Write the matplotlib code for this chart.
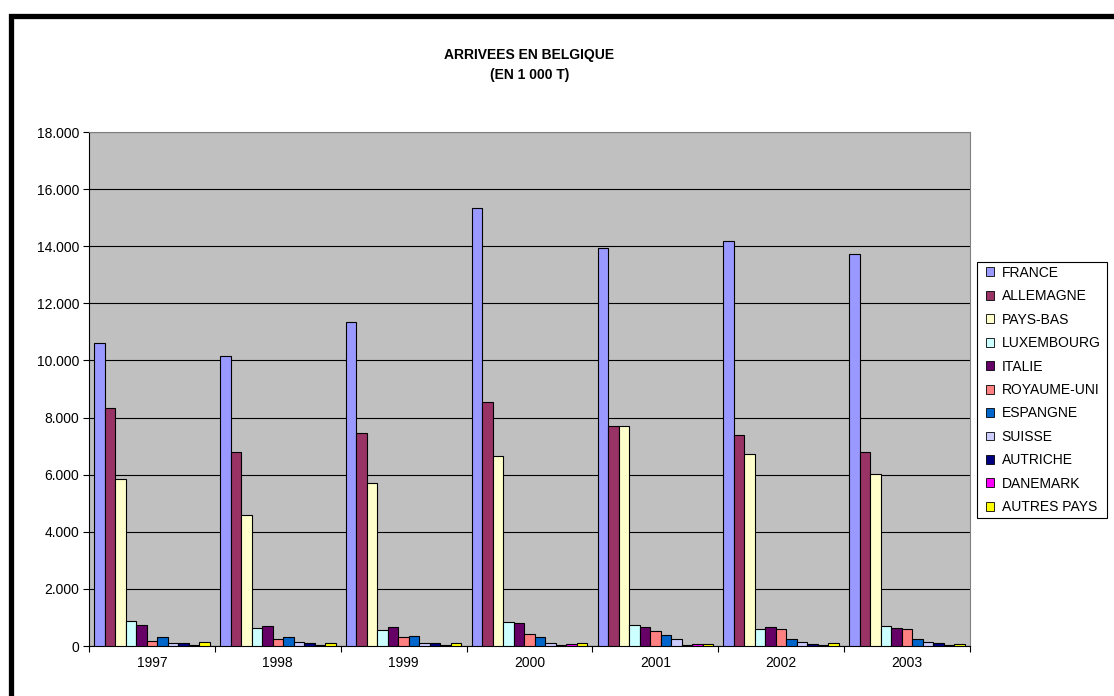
import numpy as np
import matplotlib
matplotlib.use('Agg')
import matplotlib.pyplot as plt
from matplotlib.patches import Patch, Rectangle
from matplotlib.ticker import FuncFormatter

plt.rcParams['font.family'] = ['Liberation Sans', 'DejaVu Sans']

# values in 1 000 T
years = ['1997', '1998', '1999', '2000', '2001', '2002', '2003']
france = [10600, 10150, 11350, 15340, 13940, 14200, 13730]
allemagne = [8320, 6780, 7460, 8550, 7690, 7390, 6790]
pays_bas = [5860, 4600, 5710, 6660, 7690, 6710, 6030]
luxembourg = [880, 630, 560, 850, 750, 600, 710]
italie = [750, 710, 680, 790, 680, 680, 630]
royaume_uni = [180, 240, 310, 430, 520, 600, 610]
espagne = [310, 310, 360, 300, 380, 260, 260]
suisse = [100, 150, 110, 110, 230, 150, 150]
autriche = [110, 110, 110, 40, 20, 80, 110]
danemark = [20, 40, 40, 70, 70, 20, 20]
autres = [150, 110, 110, 110, 70, 110, 70]

countries = ['FRANCE', 'ALLEMAGNE', 'PAYS-BAS', 'LUXEMBOURG', 'ITALIE', 'ROYAUME-UNI',
             'ESPANGNE', 'SUISSE', 'AUTRICHE', 'DANEMARK', 'AUTRES PAYS']
series = [france, allemagne, pays_bas, luxembourg, italie, royaume_uni,
          espagne, suisse, autriche, danemark, autres]
colors = ['#9999FF', '#993366', '#FFFFCC', '#CCFFFF', '#660066', '#FF8080',
          '#0066CC', '#CCCCFF', '#000080', '#FF00FF', '#FFFF00']

W, H = 1114, 696
fig = plt.figure(figsize=(W / 100, H / 100), dpi=100)
ax = fig.add_axes([89 / W, 1 - 646 / H, (970 - 89) / W, (646 - 132) / H])
ax.set_facecolor('#C0C0C0')

x = np.arange(len(years))
w = 0.0834
for j, (vals, c) in enumerate(zip(series, colors)):
    ax.bar(x + (j - 5) * w, vals, width=w, color=c, edgecolor='black',
           linewidth=0.8, zorder=3)

ax.set_xlim(-0.5, len(years) - 0.5)
ax.set_ylim(0, 18000)
ax.set_yticks(np.arange(0, 18001, 2000))
ax.yaxis.set_major_formatter(FuncFormatter(lambda v, p: f"{int(v):,}".replace(',', '.')))
ax.grid(axis='y', color='black', linewidth=0.8, zorder=1)
ax.set_axisbelow(True)

ax.set_xticks(np.arange(-0.5, len(years), 1))
ax.set_xticklabels([])
ax.set_xticks(x, minor=True)
ax.set_xticklabels(years, minor=True)
ax.tick_params(axis='x', which='minor', length=0, pad=7, labelsize=10)
ax.tick_params(axis='x', which='major', length=4, width=0.8, direction='out')
ax.tick_params(axis='y', length=4, width=0.8, direction='out', labelsize=10, pad=3)

for s in ['left', 'bottom']:
    ax.spines[s].set_color('black')
    ax.spines[s].set_linewidth(0.8)
for s in ['top', 'right']:
    ax.spines[s].set_color('#808080')
    ax.spines[s].set_linewidth(0.8)

fig.text(529.5 / W, 1 - 55 / H, 'ARRIVEES EN BELGIQUE', ha='center', va='center',
         fontsize=10, fontweight='bold')
fig.text(529.5 / W, 1 - 75 / H, '(EN 1 000 T)', ha='center', va='center',
         fontsize=10, fontweight='bold')

handles = [Patch(facecolor=c, edgecolor='black', linewidth=0.6) for c in colors]
leg = fig.legend(handles, countries, loc='upper left',
                 bbox_to_anchor=(983 / W, 1 - 263 / H), fontsize=10,
                 handlelength=0.6, handleheight=0.6, handletextpad=0.55,
                 labelspacing=0.68, borderpad=0.2, borderaxespad=0,
                 frameon=False)

# legend box
fig.patches.append(Rectangle((977 / W, 1 - 518 / H), 130 / W, 256 / H,
                             transform=fig.transFigure, fill=False,
                             edgecolor='black', linewidth=0.8))

# thick outer border of the chart
fig.patches.append(Rectangle((10.5 / W, -0.1), 1.2, 1 + 0.1 - 15.8 / H,
                             transform=fig.transFigure, fill=False,
                             edgecolor='black', linewidth=3.8))

fig.savefig('out.png', dpi=100)
